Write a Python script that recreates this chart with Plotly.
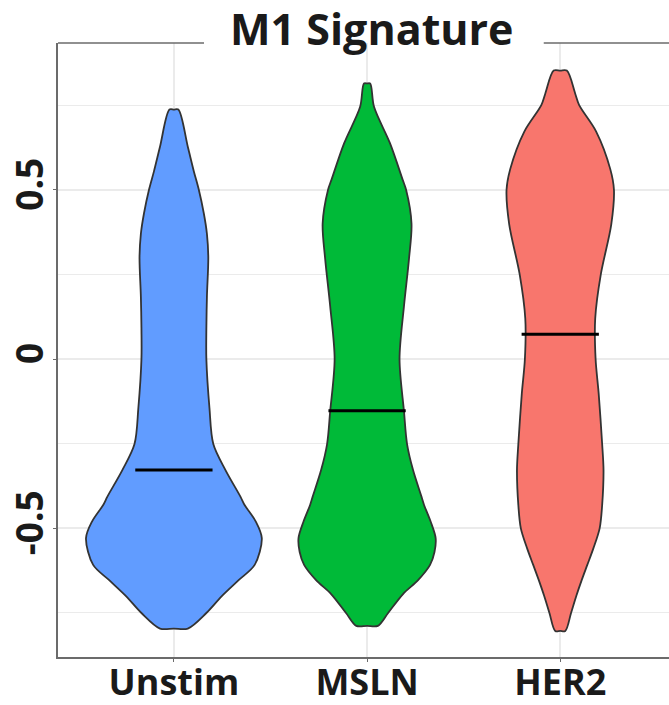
import plotly.graph_objects as go

# Groups, fill colours and medians
groups = ["Unstim", "MSLN", "HER2"]
fill_colors = ["#619CFF", "#00BA38", "#F8766D"]
medians = [-0.328, -0.153, 0.073]

# Violin profiles: score levels and half-width of the density at each level
unstim_y = [0.737, 0.627, 0.555, 0.5, 0.43, 0.37, 0.30, 0.185, 0.09, 0.0, -0.144,
            -0.251, -0.328, -0.407, -0.431, -0.48, -0.529, -0.608, -0.653, -0.70,
            -0.75, -0.796]
unstim_w = [0.023, 0.072, 0.103, 0.129, 0.155, 0.171, 0.178, 0.171, 0.168, 0.168,
            0.184, 0.204, 0.267, 0.345, 0.366, 0.424, 0.455, 0.418, 0.335, 0.248,
            0.168, 0.072]

msln_y = [0.814, 0.745, 0.637, 0.53, 0.50, 0.40, 0.296, 0.156, 0.0, -0.154, -0.251,
          -0.328, -0.407, -0.431, -0.48, -0.529, -0.57, -0.608, -0.653, -0.694,
          -0.75, -0.788]
msln_w = [0.016, 0.036, 0.119, 0.184, 0.202, 0.230, 0.217, 0.191, 0.168, 0.191,
          0.207, 0.238, 0.282, 0.295, 0.329, 0.355, 0.349, 0.326, 0.264, 0.186,
          0.109, 0.056]

her2_y = [0.852, 0.783, 0.75, 0.672, 0.561, 0.50, 0.397, 0.25, 0.12, 0.0, -0.102,
          -0.251, -0.328, -0.431, -0.5, -0.56, -0.608, -0.653, -0.70, -0.75, -0.803]
her2_w = [0.034, 0.078, 0.098, 0.186, 0.259, 0.278, 0.264, 0.210, 0.181, 0.183,
          0.199, 0.217, 0.224, 0.217, 0.204, 0.171, 0.140, 0.111, 0.083, 0.056, 0.026]

profiles = [(unstim_y, unstim_w), (msln_y, msln_w), (her2_y, her2_w)]

y_ticks = [-0.5, 0, 0.5]
y_tick_text = ["-0.5", "0", "0.5"]
y_minor = [-0.75, -0.25, 0.25, 0.75]

fig = go.Figure()

for i, (ys, ws) in enumerate(profiles):
    pos = i + 1
    # outline: right side top->bottom, flat foot, left side bottom->top, flat tip
    xs = ([pos + w for w in ws] + [pos] + [pos - w for w in reversed(ws)]
          + [pos, pos + ws[0]])
    yy = list(ys) + [ys[-1]] + list(reversed(ys)) + [ys[0], ys[0]]
    fig.add_trace(go.Scatter(
        x=xs, y=yy, mode="lines", fill="toself", fillcolor=fill_colors[i],
        line=dict(color="#333333", width=1.8, shape="spline", smoothing=0.9),
        hoverinfo="skip", showlegend=False,
    ))
    fig.add_trace(go.Scatter(
        x=[pos - 0.2, pos + 0.2], y=[medians[i], medians[i]], mode="lines",
        line=dict(color="black", width=3), hoverinfo="skip", showlegend=False,
    ))

grid_col = "#ebebeb"
axis_col = "#6b6b6b"
x_tick_font = dict(family="Open Sans", size=36, color="#1a1a1a", weight="bold")
y_tick_font = dict(family="Open Sans", size=37, color="#1a1a1a", weight="bold")

fig.update_layout(
    width=669, height=705,
    margin=dict(l=58, r=0, t=43, b=48),
    paper_bgcolor="white", plot_bgcolor="white",
    xaxis=dict(
        range=[0.4, 3.563], tickvals=[1, 2, 3], ticktext=groups, automargin=False,
        showgrid=True, gridcolor=grid_col, gridwidth=1.5, zeroline=False,
        showline=True, linecolor=axis_col, linewidth=1.5,
        ticks="outside", ticklen=3, tickcolor=axis_col, tickfont=x_tick_font,
        ticklabelstandoff=-10,
    ),
    yaxis=dict(
        range=[-0.880, 0.9335], tickvals=y_ticks, ticktext=y_tick_text,
        automargin=False, tickangle=-90, showgrid=True, gridcolor=grid_col,
        gridwidth=1.5, zeroline=False, showline=True, linecolor=axis_col,
        linewidth=1.5, ticks="outside", ticklen=3, tickcolor=axis_col,
        tickfont=y_tick_font, ticklabelstandoff=-5,
        minor=dict(tickvals=y_minor, showgrid=True, gridcolor=grid_col,
                   gridwidth=1, ticks=""),
    ),
    shapes=[
        dict(type="line", xref="paper", yref="paper", x0=0, x1=0.239, y0=1, y1=1,
             line=dict(color=axis_col, width=1.5)),
        dict(type="line", xref="paper", yref="paper", x0=0.795, x1=1, y0=1, y1=1,
             line=dict(color=axis_col, width=1.5)),
    ],
    annotations=[
        dict(text="M1 Signature", xref="paper", yref="paper", x=0.514, y=1.0244,
             xanchor="center", yanchor="middle", showarrow=False,
             font=dict(family="Open Sans", size=43, color="#1a1a1a", weight="bold")),
    ],
)

fig.write_html("out.html")
